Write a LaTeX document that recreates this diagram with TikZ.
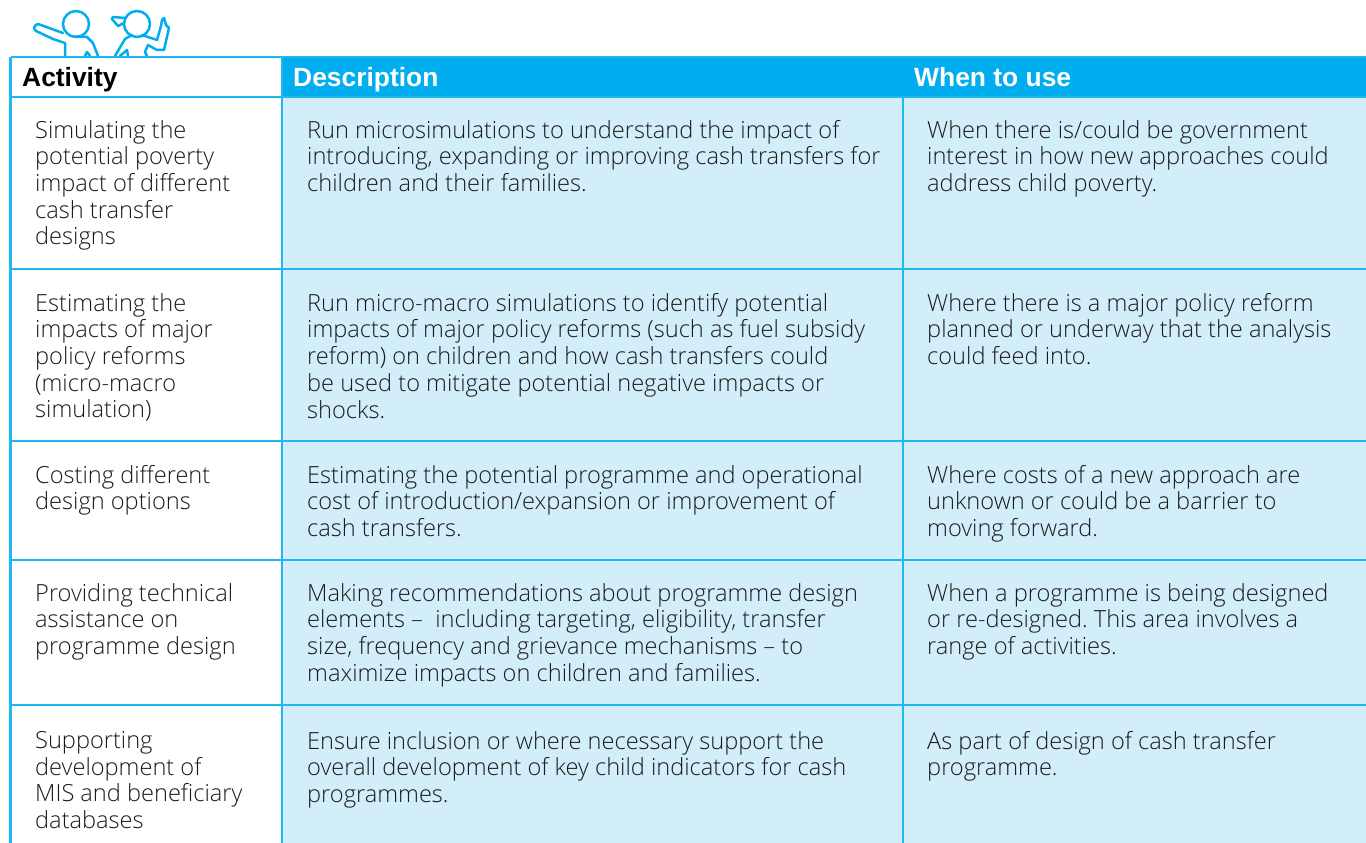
\documentclass[tikz,border=0pt]{standalone}
\usepackage{fontspec}
\setmainfont{Open Sans}[UprightFont=* Light,BoldFont=* Bold]
\newfontfamily\headfam{Liberation Sans}
\definecolor{cy}{HTML}{00AEEF}
\definecolor{ln}{HTML}{1FB8F2}
\definecolor{pale}{HTML}{D2EEFB}
\definecolor{ink}{HTML}{1A1A1A}
\newcommand{\bodyfont}{\fontsize{23.6}{26.7}\selectfont\frenchspacing}
\newcommand{\headfont}{\headfam\fontsize{26.4}{30}\selectfont\bfseries}
\tikzset{
 celltxt/.style={anchor=north west,inner sep=0pt,align=left,text=ink,font=\bodyfont},
 headtxt/.style={anchor=base west,inner sep=0pt,font=\headfont},
 grid/.style={draw=ln,line width=2.4pt},
 fig/.style={draw=cy,line width=2.5pt,line cap=round,line join=round}
}
\begin{document}
\begin{tikzpicture}[x=1pt,y=-1pt]
\useasboundingbox (0,0) rectangle (1366,843);
\fill[pale] (282,97) rectangle (1366,843);
\fill[cy] (282,56) rectangle (1366,97);
% figures
\draw[fig] (76,24) circle (13);
\draw[fig] (65,56) -- (65,43) -- (53,39) -- (36,31) .. controls (33,29) and (34,25) .. (38,24) -- (63,33);
\draw[fig] (75,36.5) -- (87,37) -- (93,43) -- (98,56);
\draw[fig] (85,56) -- (87,52) -- (90,56);
\draw[fig] (137,24) circle (13);
\draw[fig] (125,18) -- (113,17) -- (112,19) -- (118,26) -- (124,23);
\draw[fig] (115,56) -- (125,39) -- (132,35);
\draw[fig] (142,35) -- (157,40) -- (161,26) -- (162,20) -- (164,18) -- (166,25) -- (169,28) -- (164,50) -- (157,50) -- (148,45) -- (145,52) -- (147,56);
\draw[fig] (120,56) -- (127,50) -- (128,56);
% grid
\draw[grid] (10.5,57) -- (1366,57);
\draw[grid] (10.5,57) -- (10.5,843);
\draw[grid] (282,57) -- (282,843);
\draw[grid] (903,97) -- (903,843);
\foreach \yy in {97,269,441,560,705} \draw[grid] (10.5,\yy) -- (1366,\yy);
% header
\node[headtxt,text=black] (hA) at (22,86) {Activity};
\node[headtxt,text=white] (hD) at (293,86) {Description};
\node[headtxt,text=white] (hW) at (914,86) {When to use};
% rows
\node[celltxt] (a1) at (35,120) {Simulating the\\potential poverty\\impact of different\\cash transfer\\designs};
\node[celltxt] (d1) at (307,120) {Run microsimulations to understand the impact of\\introducing, expanding or improving cash transfers for\\children and their families.};
\node[celltxt] (w1) at (927,120) {When there is/could be government\\interest in how new approaches could\\address child poverty.};
\node[celltxt] (a2) at (35,293) {Estimating the\\impacts of major\\policy reforms\\(micro-macro\\simulation)};
\node[celltxt] (d2) at (307,293) {Run micro-macro simulations to identify potential\\impacts of major policy reforms (such as fuel subsidy\\reform) on children and how cash transfers could\\be used to mitigate potential negative impacts or\\shocks.};
\node[celltxt] (w2) at (927,293) {Where there is a major policy reform\\planned or underway that the analysis\\could feed into.};
\node[celltxt] (a3) at (35,465) {Costing different\\design options};
\node[celltxt] (d3) at (307,465) {Estimating the potential programme and operational\\cost of introduction/expansion or improvement of\\cash transfers.};
\node[celltxt] (w3) at (927,465) {Where costs of a new approach are\\unknown or could be a barrier to\\moving forward.};
\node[celltxt] (a4) at (35,583) {Providing technical\\assistance on\\programme design};
\node[celltxt] (d4) at (307,583) {Making recommendations about programme design\\elements –\ \ including targeting, eligibility, transfer\\size, frequency and grievance mechanisms – to\\maximize impacts on children and families.};
\node[celltxt] (w4) at (927,583) {When a programme is being designed\\or re-designed. This area involves a\\range of activities.};
\node[celltxt] (a5) at (35,731) {Supporting\\development of\\MIS and beneficiary\\databases};
\node[celltxt] (d5) at (307,731) {Ensure inclusion or where necessary support the\\overall development of key child indicators for cash\\programmes.};
\node[celltxt] (w5) at (927,731) {As part of design of cash transfer\\programme.};
\end{tikzpicture}
\end{document}
